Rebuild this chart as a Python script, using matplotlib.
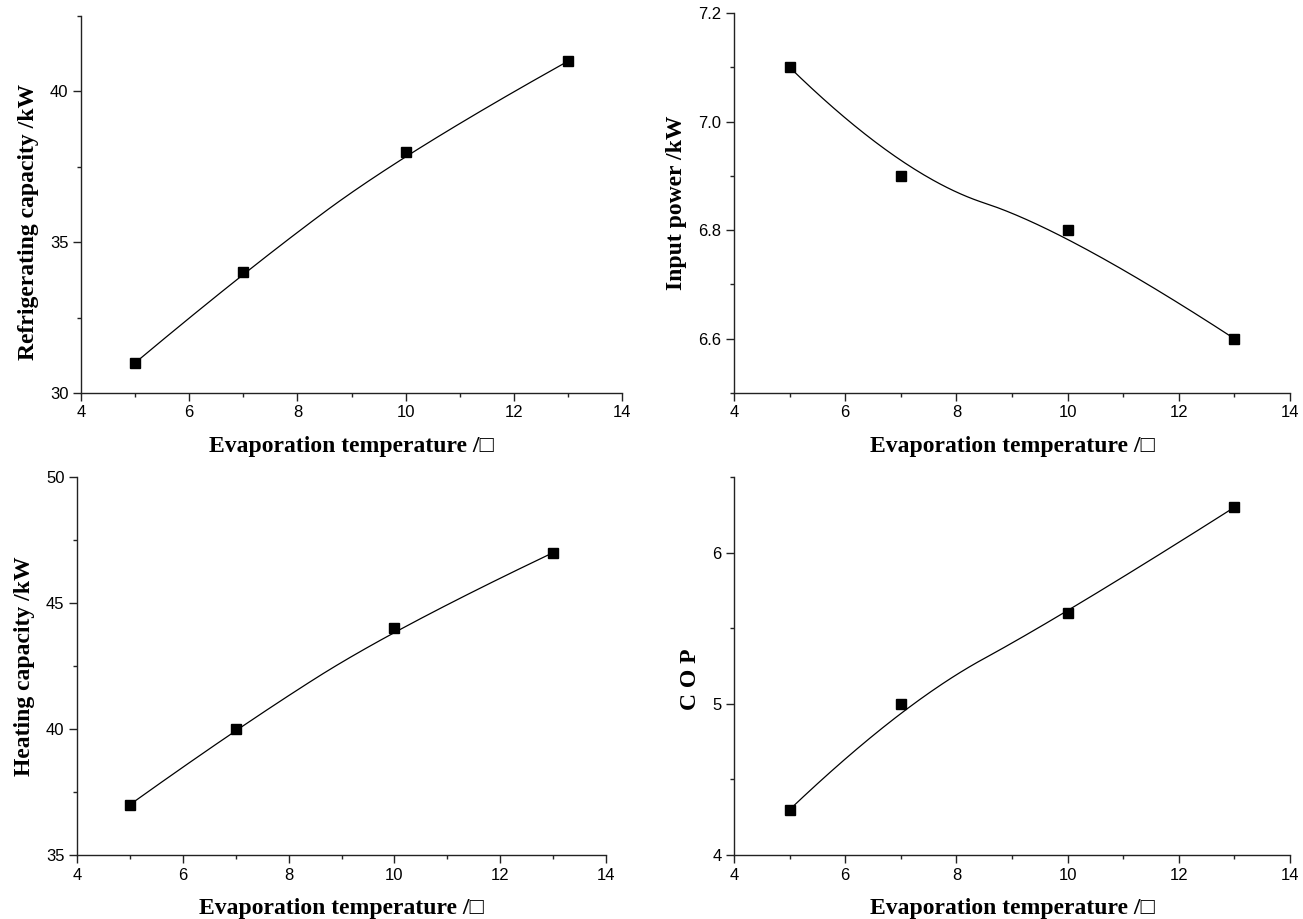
import matplotlib
matplotlib.use("Agg")
import matplotlib.pyplot as plt
import numpy as np
from matplotlib.ticker import MultipleLocator, FormatStrFormatter

# evaporation temperature (C)
evap_temp = [5, 7, 10, 13]

refrigerating_kw = [31, 34, 38, 41]
input_power_kw = [7.1, 6.9, 6.8, 6.6]
heating_kw = [37, 40, 44, 47]
cop = [4.3, 5.0, 5.6, 6.3]

x_label = "Evaporation temperature /\u25a1"
serif = ["Liberation Serif", "DejaVu Serif"]


def bspline2(xs, ys, n=80):
    # clamped quadratic B-spline with the data points as control points
    p = np.column_stack([xs, ys]).astype(float)
    q = [p[0]] + [(p[i] + p[i + 1]) / 2 for i in range(1, len(p) - 2)] + [p[-1]]
    t = np.linspace(0, 1, n)[:, None]
    segs = []
    for i in range(len(q) - 1):
        a, b, c = q[i], p[i + 1], q[i + 1]
        segs.append((1 - t) ** 2 * a + 2 * t * (1 - t) * b + t ** 2 * c)
    out = np.vstack(segs)
    return out[:, 0], out[:, 1]


def panel(ax, ys, ylabel, ylim, ymajor, label_y=0.5):
    cx, cy = bspline2(evap_temp, ys)
    ax.plot(cx, cy, color="black", linewidth=0.9)
    ax.plot(evap_temp, ys, linestyle="none", marker="s", markersize=7, color="black")
    ax.set_xlim(4, 14)
    ax.set_ylim(*ylim)
    ax.xaxis.set_major_locator(MultipleLocator(2))
    ax.xaxis.set_minor_locator(MultipleLocator(1))
    ax.yaxis.set_major_locator(MultipleLocator(ymajor))
    ax.yaxis.set_minor_locator(MultipleLocator(ymajor / 2))
    for s in ("top", "right"):
        ax.spines[s].set_visible(False)
    for s in ("left", "bottom"):
        ax.spines[s].set_linewidth(1.0)
        ax.spines[s].set_color("#222222")
    ax.tick_params(which="major", direction="out", length=5.5, width=1, labelsize=12,
                   labelfontfamily="Liberation Sans", color="#222222")
    ax.tick_params(which="minor", direction="out", length=3, width=1, color="#222222")
    ax.set_xlabel(x_label, family=serif, fontweight="bold", fontsize=17, labelpad=11)
    ax.set_ylabel(ylabel, family=serif, fontweight="bold", fontsize=17, labelpad=8)
    ax.yaxis.label.set_y(label_y)


fig = plt.figure(figsize=(13.03, 9.19), dpi=100)
ax1 = fig.add_axes([0.0622, 0.5724, 0.4152, 0.4102])
ax2 = fig.add_axes([0.5633, 0.5724, 0.4267, 0.4135])
ax3 = fig.add_axes([0.0591, 0.0696, 0.4060, 0.4113])
ax4 = fig.add_axes([0.5633, 0.0696, 0.4267, 0.4113])

panel(ax1, refrigerating_kw, "Refrigerating capacity /kW", (30, 42.5), 5, label_y=0.455)
panel(ax2, input_power_kw, "Input power /kW", (6.5, 7.2), 0.2)
ax2.yaxis.set_major_formatter(FormatStrFormatter("%.1f"))
panel(ax3, heating_kw, "Heating capacity /kW", (35, 50), 5)
panel(ax4, cop, "C O P", (4, 6.5), 1, label_y=0.465)

fig.savefig("out.png", dpi=100)
